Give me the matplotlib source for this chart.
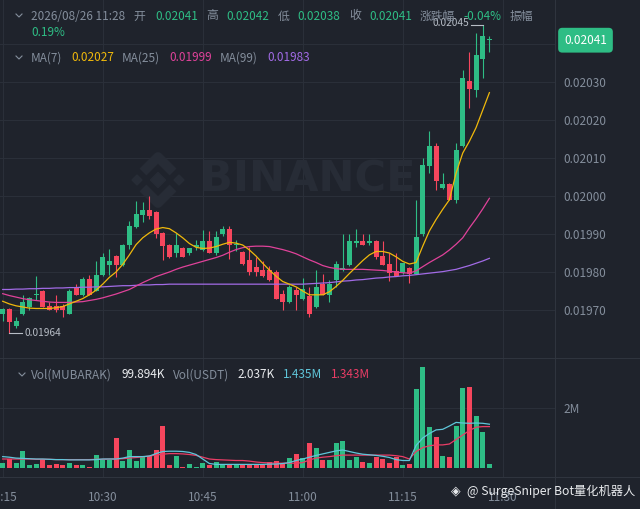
import numpy as np
import matplotlib
matplotlib.use("Agg")
import matplotlib.pyplot as plt
from matplotlib.lines import Line2D
from matplotlib.patches import RegularPolygon
import matplotlib.transforms as mtransforms

# ---- data: 1-minute candles, prices in units of 1e-5 ----
opens = [1969.0, 1970.2, 1965.9, 1969.0, 1970.9, 1974.0, 1975.1, 1971.1, 1971.1, 1971.1,
         1969.0, 1976.1, 1974.0, 1978.2, 1975.0, 1979.2, 1981.8, 1984.2, 1981.8, 1987.1,
         1991.9, 1995.0, 1996.3, 1995.9, 1990.2, 1987.1, 1984.9, 1986.4, 1984.9, 1986.7,
         1985.8, 1988.2, 1984.9, 1989.9, 1991.2, 1987.1, 1985.2, 1983.2, 1981.2, 1980.4,
         1980.4, 1980.1, 1974.2, 1972.0, 1975.3, 1972.9, 1973.7, 1970.9, 1976.8, 1974.0,
         1977.9, 1980.5, 1981.8, 1987.6, 1988.2, 1987.6, 1988.2, 1984.2, 1982.1, 1980.3,
         1979.8, 1981.1, 1979.6, 1990.0, 2008.0, 2013.2, 2002.0, 2003.2, 1999.0, 2013.2,
         2030.3, 2027.9, 2036.0, 2041.0]
highs = [1970.6, 1970.6, 1968.2, 1974.0, 1973.5, 1979.0, 1975.3, 1972.2, 1974.0, 1971.5,
         1975.5, 1976.8, 1978.8, 1979.2, 1983.0, 1985.0, 1986.0, 1984.5, 1987.5, 1993.5,
         1998.7, 1998.4, 2000.0, 1996.0, 1990.4, 1987.3, 1990.2, 1986.6, 1986.4, 1988.4,
         1991.0, 1990.7, 1990.7, 1992.0, 1992.0, 1988.3, 1985.5, 1986.5, 1984.0, 1983.0,
         1981.5, 1980.4, 1975.3, 1976.5, 1976.1, 1978.5, 1976.1, 1980.5, 1979.4, 1977.8,
         1983.0, 1990.0, 1990.0, 1991.2, 1990.0, 1990.0, 1988.3, 1988.2, 1985.0, 1985.0,
         1982.5, 1981.3, 1999.0, 2010.0, 2017.2, 2014.0, 2006.0, 2003.4, 2013.9, 2033.2,
         2038.0, 2043.0, 2045.0, 2042.0]
lows = [1967.0, 1964.0, 1965.2, 1968.8, 1970.0, 1972.6, 1970.9, 1970.0, 1969.5, 1968.2,
        1969.0, 1974.0, 1973.8, 1974.0, 1975.0, 1979.0, 1979.2, 1978.8, 1981.5, 1986.0,
        1991.5, 1993.2, 1994.0, 1989.0, 1983.2, 1983.8, 1984.0, 1984.0, 1984.5, 1985.8,
        1985.5, 1984.9, 1984.6, 1989.5, 1983.5, 1985.4, 1981.8, 1979.2, 1978.9, 1978.6,
        1977.6, 1972.9, 1970.0, 1971.8, 1970.0, 1972.6, 1968.1, 1970.6, 1974.0, 1972.0,
        1976.1, 1980.3, 1981.5, 1986.6, 1987.0, 1987.0, 1983.5, 1981.8, 1977.6, 1979.0,
        1979.6, 1977.2, 1979.4, 1989.5, 2006.0, 2001.7, 2001.8, 1999.0, 1998.1, 2013.0,
        2023.1, 2026.1, 2031.0, 2038.0]
closes = [1970.2, 1966.9, 1967.1, 1972.2, 1973.1, 1974.3, 1970.9, 1970.0, 1970.0, 1970.0,
          1975.0, 1974.0, 1978.2, 1974.0, 1979.2, 1984.0, 1983.0, 1981.8, 1987.1, 1992.1,
          1995.2, 1996.3, 1994.8, 1989.9, 1986.9, 1984.0, 1987.1, 1984.0, 1986.2, 1987.1,
          1988.2, 1984.9, 1989.3, 1991.2, 1987.1, 1987.5, 1982.0, 1979.9, 1979.9, 1979.0,
          1977.9, 1972.9, 1972.0, 1976.1, 1974.0, 1975.5, 1969.0, 1976.1, 1974.0, 1976.8,
          1982.1, 1981.1, 1988.2, 1988.2, 1987.0, 1988.2, 1984.0, 1981.8, 1979.8, 1979.0,
          1982.3, 1979.4, 1989.1, 2008.2, 2013.2, 2004.0, 2003.2, 1999.0, 2012.1, 2031.1,
          2028.1, 2037.1, 2042.1, 2041.0]

ma7 = [1972.3, 1971.6, 1971.1, 1970.8, 1970.5, 1970.4, 1970.4, 1970.4, 1970.6, 1970.9,
       1971.6, 1972.3, 1973.0, 1974.0, 1975.2, 1976.8, 1978.6, 1980.0, 1982.0, 1984.5,
       1987.2, 1989.0, 1990.3, 1991.3, 1991.7, 1991.4, 1990.3, 1989.0, 1987.5, 1986.5,
       1986.2, 1986.3, 1986.7, 1987.3, 1987.8, 1987.6, 1987.1, 1985.8, 1984.2, 1982.3,
       1980.5, 1978.9, 1977.5, 1976.8, 1976.1, 1975.0, 1974.0, 1974.0, 1974.0, 1974.8,
       1976.2, 1977.8, 1979.6, 1981.3, 1983.0, 1984.5, 1985.4, 1985.4, 1985.0, 1984.0,
       1982.8, 1982.1, 1982.5, 1986.8, 1990.8, 1993.8, 1996.5, 1999.0, 2006.0, 2011.3,
       2014.4, 2018.0, 2022.6, 2027.2]
ma25 = [1974.3, 1973.8, 1973.4, 1973.0, 1972.7, 1972.5, 1972.3, 1972.1, 1972.0, 1972.0,
        1972.0, 1972.1, 1972.2, 1972.5, 1972.8, 1973.2, 1973.7, 1974.2, 1974.8, 1975.4,
        1976.3, 1977.2, 1978.0, 1978.8, 1979.4, 1980.0, 1980.7, 1981.3, 1981.8, 1982.3,
        1982.8, 1983.3, 1983.8, 1984.4, 1985.2, 1985.9, 1986.4, 1986.7, 1986.8, 1986.8,
        1986.7, 1986.3, 1985.9, 1985.4, 1984.8, 1984.0, 1983.2, 1982.5, 1981.7, 1981.2,
        1980.9, 1980.7, 1980.7, 1980.7, 1980.7, 1980.6, 1980.5, 1980.4, 1980.2, 1980.0,
        1979.8, 1979.7, 1980.3, 1981.4, 1982.5, 1983.5, 1984.5, 1985.8, 1987.3, 1989.0,
        1991.6, 1994.0, 1996.6, 1999.4]
ma99 = [1975.4, 1975.4, 1975.5, 1975.5, 1975.6, 1975.6, 1975.7, 1975.7, 1975.8, 1975.8,
        1975.9, 1975.9, 1976.0, 1976.0, 1976.1, 1976.1, 1976.2, 1976.3, 1976.4, 1976.4,
        1976.5, 1976.6, 1976.6, 1976.7, 1976.7, 1976.8, 1976.8, 1976.8, 1976.8, 1976.8,
        1976.8, 1976.8, 1976.8, 1976.8, 1976.8, 1976.8, 1976.8, 1976.8, 1976.8, 1976.8,
        1976.8, 1976.8, 1976.8, 1976.8, 1976.8, 1976.8, 1976.9, 1977.0, 1977.1, 1977.2,
        1977.4, 1977.6, 1977.7, 1977.9, 1978.0, 1978.2, 1978.4, 1978.5, 1978.7, 1978.8,
        1979.0, 1979.1, 1979.3, 1979.5, 1979.7, 1979.9, 1980.1, 1980.4, 1980.7, 1981.2,
        1981.7, 1982.3, 1982.9, 1983.6]

# volume in millions
volume = [0.16, 0.30, 0.16, 0.58, 0.10, 0.13, 0.30, 0.10, 0.13, 0.10,
          0.18, 0.10, 0.10, 0.05, 0.43, 0.27, 0.27, 1.01, 0.23, 0.60,
          0.23, 0.38, 0.40, 0.60, 1.40, 0.09, 0.40, 0.05, 0.13, 0.05,
          0.18, 0.09, 0.20, 0.09, 0.09, 0.09, 0.09, 0.09, 0.09, 0.09,
          0.21, 0.23, 0.16, 0.32, 0.46, 0.35, 0.82, 0.66, 0.27, 0.27,
          0.82, 0.91, 0.27, 0.36, 0.20, 0.16, 0.38, 0.29, 0.16, 0.38,
          0.10, 0.13, 2.64, 3.36, 1.36, 1.02, 0.40, 0.36, 1.41, 2.68,
          2.71, 1.75, 1.19, 0.12]
vol_ma5 = [0.38, 0.36, 0.33, 0.32, 0.31, 0.30, 0.30, 0.29, 0.28, 0.28,
           0.27, 0.27, 0.27, 0.27, 0.28, 0.30, 0.30, 0.30, 0.33, 0.38,
           0.38, 0.38, 0.40, 0.48, 0.55, 0.56, 0.56, 0.55, 0.52, 0.45,
           0.30, 0.15, 0.12, 0.12, 0.12, 0.12, 0.12, 0.12, 0.12, 0.12,
           0.13, 0.13, 0.15, 0.18, 0.25, 0.30, 0.36, 0.42, 0.47, 0.52,
           0.57, 0.60, 0.55, 0.50, 0.46, 0.44, 0.42, 0.39, 0.35, 0.28,
           0.25, 0.25, 0.75, 1.00, 1.15, 1.27, 1.29, 1.40, 1.52, 1.50,
           1.49, 1.50, 1.49, 1.46]
vol_ma10 = [0.30, 0.30, 0.30, 0.30, 0.30, 0.29, 0.29, 0.29, 0.28, 0.28,
            0.28, 0.28, 0.28, 0.28, 0.29, 0.29, 0.30, 0.30, 0.31, 0.33,
            0.35, 0.37, 0.40, 0.43, 0.46, 0.48, 0.48, 0.47, 0.45, 0.42,
            0.36, 0.30, 0.28, 0.27, 0.26, 0.25, 0.25, 0.23, 0.20, 0.18,
            0.17, 0.16, 0.16, 0.16, 0.16, 0.18, 0.27, 0.33, 0.36, 0.38,
            0.41, 0.43, 0.43, 0.43, 0.43, 0.43, 0.43, 0.43, 0.43, 0.41,
            0.38, 0.30, 0.55, 0.68, 0.74, 0.77, 0.77, 0.80, 0.95, 1.10,
            1.25, 1.36, 1.38, 1.38]

time_ticks = [0, 15, 30, 45, 60, 75]
time_labels = ["10:15", "10:30", "10:45", "11:00", "11:15", "11:30"]
price_ticks = [1970, 1980, 1990, 2000, 2010, 2020, 2030, 2040]
vol_ticks = [2.0]

# ---- house style ----
BG = "#1f232c"; GRID = "#2a2f39"; SEP = "#2f343e"
MUTED = "#848e9c"; WHITE = "#eaecef"
GREEN = "#2ebd85"; RED = "#f6465d"
MA7C = "#f0b90b"; MA25C = "#e0429a"; MA99C = "#a26be6"
CYAN = "#5fc6da"; PINK = "#ea3d66"; WM = "#272c36"
FONT = ["Noto Sans CJK SC", "DejaVu Sans"]
FS = 8.5
plt.rcParams["font.family"] = FONT

W, H = 640, 509
S = 1e5

o = np.array(opens) / S; h = np.array(highs) / S
l = np.array(lows) / S; c = np.array(closes) / S
x = np.arange(len(o))
cols = np.where(c >= o, GREEN, RED)


def box(x0, y0, x1, y1):
    return [x0 / W, 1 - y1 / H, (x1 - x0) / W, (y1 - y0) / H]


def T(xp, yp, s, color=MUTED, size=FS, family=FONT):
    fig.text(xp / W, 1 - yp / H, s, color=color, fontsize=size, va="center",
             ha="left", family=family)


def chevron(xp, yp):
    fig.add_artist(Line2D([(xp - 3) / W, xp / W, (xp + 3) / W],
                          [1 - (yp - 2) / H, 1 - (yp + 1) / H, 1 - (yp - 2) / H],
                          color=MUTED, lw=0.8))


fig = plt.figure(figsize=(W / 100, H / 100), dpi=100, facecolor=BG)
ax = fig.add_axes(box(0, 0, 555, 358))
axv = fig.add_axes(box(0, 358, 555, 477))
for a in (ax, axv):
    a.set_facecolor("none")
    for sp in a.spines.values():
        sp.set_visible(False)
    a.set_xlim(-0.405, 82.84)
    a.set_xticks(time_ticks)
    a.grid(color=GRID, lw=0.8)
    a.set_axisbelow(True)
    a.tick_params(length=0)

# ---- price panel ----
ax.set_ylim(1957.37 / S, 2051.58 / S)
ax.set_yticks(np.array(price_ticks) / S)
ax.set_yticklabels([f"{v / S:.5f}" if v != 2040 else "" for v in price_ticks])
ax.yaxis.tick_right()
ax.tick_params(axis="y", pad=6, labelsize=FS, labelcolor=MUTED)
ax.tick_params(axis="x", labelbottom=False)

# watermark
ax.text(200 / W, 1 - 180 / H, "BINANCE", transform=fig.transFigure, fontsize=31,
        fontweight="bold", color=WM, va="center", ha="left", family="DejaVu Sans", zorder=0.6)
lg = fig.dpi_scale_trans
cx, cy = 1.58, (H - 180) / 100
for dx, dy, r in [(0, 0, 0.075), (-0.21, 0, 0.05), (0.21, 0, 0.05)]:
    ax.add_patch(RegularPolygon((cx + dx, cy + dy), 4, radius=r, transform=lg,
                                color=WM, clip_on=False, zorder=0.6))
for sgn in (1, -1):
    ax.add_line(Line2D([cx - 0.15, cx, cx + 0.15],
                       [cy + sgn * 0.08, cy + sgn * 0.23, cy + sgn * 0.08],
                       transform=lg, color=WM, lw=7, solid_capstyle="butt", zorder=0.6))

ax.vlines(x, l, h, colors=cols, lw=0.8, zorder=2)
ax.bar(x, np.maximum(np.abs(c - o), 3e-6), bottom=np.minimum(o, c), width=0.74,
       color=cols, lw=0, zorder=3)
ax.plot(x, np.array(ma99) / S, color=MA99C, lw=0.9, zorder=4)
ax.plot(x, np.array(ma25) / S, color=MA25C, lw=0.9, zorder=4)
ax.plot(x, np.array(ma7) / S, color=MA7C, lw=0.9, zorder=4)

# low / high markers
il, ih = int(np.argmin(l)), int(np.argmax(h))
ax.plot([il, il + 1.85], [l[il], l[il]], color="#b7bdc6", lw=0.8)
ax.text(il + 2.2, l[il], f"{l[il]:.5f}", color="#b7bdc6", fontsize=7.3, va="center", ha="left")
ax.plot([ih - 1.75, ih], [h[ih], h[ih]], color="#b7bdc6", lw=0.8)
ax.text(ih - 2.05, h[ih] + 0.5e-5, f"{h[ih]:.5f}", color="#b7bdc6", fontsize=7.3,
        va="center", ha="right")

# last price badge
tr = mtransforms.blended_transform_factory(ax.transAxes, ax.transData)
ax.text(585.5 / 555, c[-1], f"{c[-1]:.5f}", transform=tr, color="white", fontsize=FS,
        ha="center", va="center", clip_on=False, zorder=6,
        bbox=dict(boxstyle="round,pad=0.5,rounding_size=0.35", fc=GREEN, ec="none"))

# ---- volume panel ----
axv.set_ylim(-0.3, 3.667)
axv.set_yticks(vol_ticks)
axv.set_yticklabels([f"{v:.0f}M" for v in vol_ticks])
axv.yaxis.tick_right()
axv.tick_params(axis="y", pad=6, labelsize=FS, labelcolor=MUTED)
axv.set_xticklabels(time_labels)
axv.tick_params(axis="x", pad=10, labelsize=FS, labelcolor=MUTED)
axv.bar(x, volume, width=0.74, color=cols, lw=0, zorder=3)
axv.plot(x, vol_ma10, color=PINK, lw=0.9, zorder=4)
axv.plot(x, vol_ma5, color=CYAN, lw=0.9, zorder=4)

# separators
fig.add_artist(Line2D([555 / W, 555 / W], [0, 1], color=SEP, lw=0.8))
for yp in (358, 477):
    fig.add_artist(Line2D([0, 1], [1 - yp / H, 1 - yp / H], color=SEP, lw=0.8))

# ---- header texts ----
chevron(19, 16)
T(31, 16, "2026/08/26 11:28")
for xp, s, col in [(133, "开", MUTED), (155, "0.02041", GREEN), (206, "高", MUTED),
                   (226, "0.02042", GREEN), (278, "低", MUTED), (297, "0.02038", GREEN),
                   (349, "收", MUTED), (369, "0.02041", GREEN), (420, "涨跌幅", MUTED),
                   (463, "-0.04%", GREEN), (510, "振幅", MUTED)]:
    T(xp, 16, s, col)
T(31, 33, "0.19%", GREEN)

chevron(19, 58)
for xp, s, col in [(31, "MA(7)", MUTED), (71, "0.02027", MA7C), (122, "MA(25)", MUTED),
                   (169, "0.01999", MA25C), (220, "MA(99)", MUTED), (267, "0.01983", MA99C)]:
    T(xp, 58, s, col)

chevron(22, 375)
for xp, s, col in [(31, "Vol(MUBARAK)", MUTED), (121, "99.894K", WHITE), (173, "Vol(USDT)", MUTED),
                   (237, "2.037K", WHITE), (283, "1.435M", CYAN), (331, "1.343M", PINK)]:
    T(xp, 375, s, col)

# corner watermark
T(451, 491, "◈", "#e8eaed", size=9, family="DejaVu Sans")
T(467, 491, "@ SurgeSniper Bot量化机器人", "#e8eaed", size=8.8)

fig.savefig("out.png", dpi=100, facecolor=BG)
